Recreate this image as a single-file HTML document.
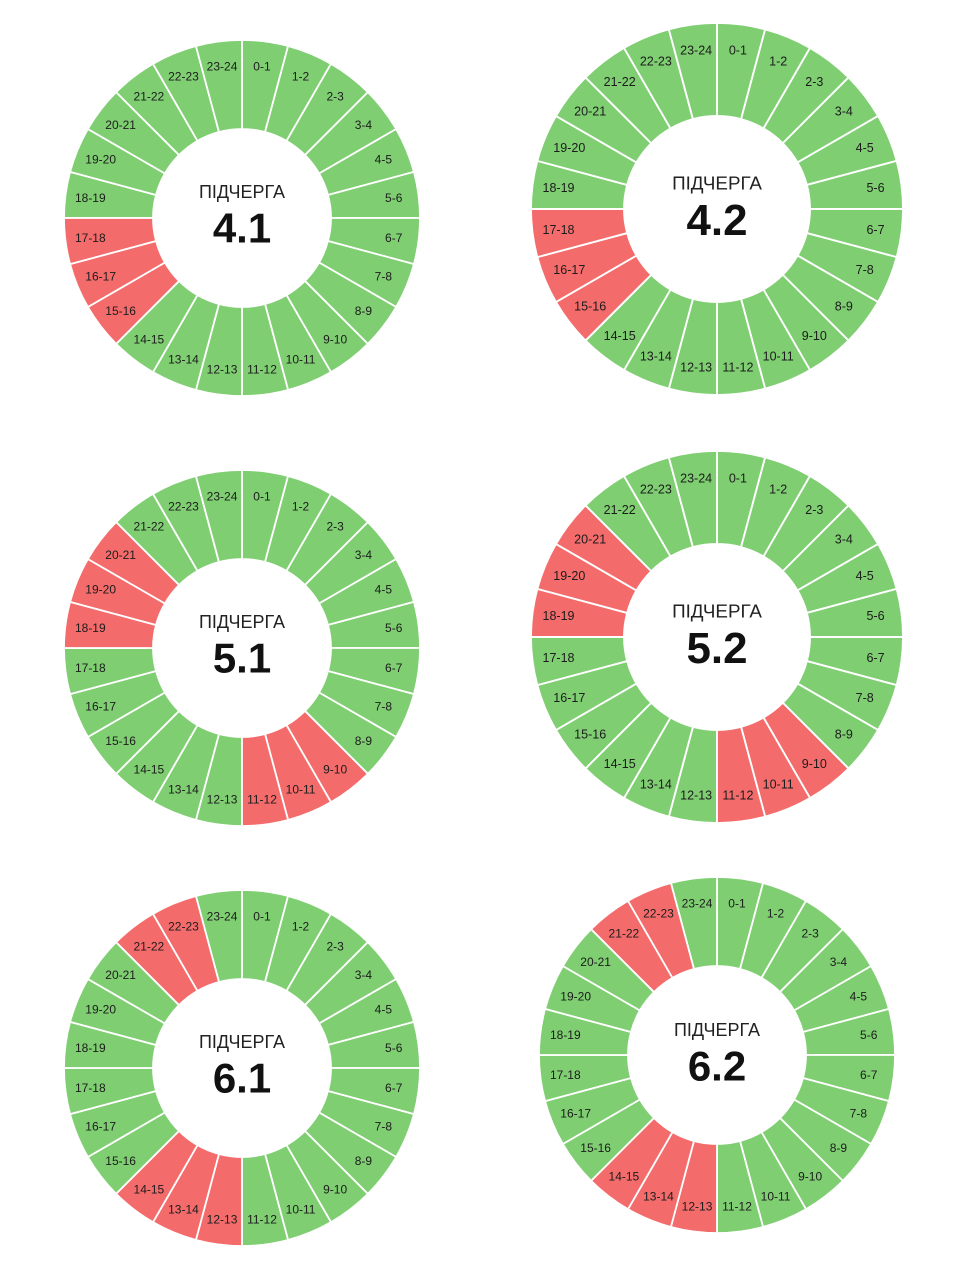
<!DOCTYPE html>
<html><head><meta charset="utf-8"><style>
html,body{margin:0;padding:0;background:#fff;}
svg{display:block;}
</style></head><body>
<svg width="960" height="1280" viewBox="0 0 960 1280" xmlns="http://www.w3.org/2000/svg" font-family="Liberation Sans, DejaVu Sans, sans-serif">
<defs>
<path id="s" d="M0,-178 A178,178 0 0 1 46.07,-171.94 L23.03,-85.97 A89,89 0 0 0 0,-89Z" stroke="#fff" stroke-width="1.8" stroke-linejoin="round"/>
<g id="G">
<use href="#s" transform="rotate(0)"/><use href="#s" transform="rotate(15)"/><use href="#s" transform="rotate(30)"/><use href="#s" transform="rotate(45)"/><use href="#s" transform="rotate(60)"/><use href="#s" transform="rotate(75)"/><use href="#s" transform="rotate(90)"/><use href="#s" transform="rotate(105)"/><use href="#s" transform="rotate(120)"/><use href="#s" transform="rotate(135)"/><use href="#s" transform="rotate(150)"/><use href="#s" transform="rotate(165)"/><use href="#s" transform="rotate(180)"/><use href="#s" transform="rotate(195)"/><use href="#s" transform="rotate(210)"/><use href="#s" transform="rotate(225)"/><use href="#s" transform="rotate(240)"/><use href="#s" transform="rotate(255)"/><use href="#s" transform="rotate(270)"/><use href="#s" transform="rotate(285)"/><use href="#s" transform="rotate(300)"/><use href="#s" transform="rotate(315)"/><use href="#s" transform="rotate(330)"/><use href="#s" transform="rotate(345)"/>
</g>
<g id="L" font-size="12" fill="#1c1c1c" text-anchor="middle" dominant-baseline="central">
<g transform="rotate(7.5)"><text transform="translate(0,-153) rotate(-7.5)">0-1</text></g>
<g transform="rotate(22.5)"><text transform="translate(0,-153) rotate(-22.5)">1-2</text></g>
<g transform="rotate(37.5)"><text transform="translate(0,-153) rotate(-37.5)">2-3</text></g>
<g transform="rotate(52.5)"><text transform="translate(0,-153) rotate(-52.5)">3-4</text></g>
<g transform="rotate(67.5)"><text transform="translate(0,-153) rotate(-67.5)">4-5</text></g>
<g transform="rotate(82.5)"><text transform="translate(0,-153) rotate(-82.5)">5-6</text></g>
<g transform="rotate(97.5)"><text transform="translate(0,-153) rotate(-97.5)">6-7</text></g>
<g transform="rotate(112.5)"><text transform="translate(0,-153) rotate(-112.5)">7-8</text></g>
<g transform="rotate(127.5)"><text transform="translate(0,-153) rotate(-127.5)">8-9</text></g>
<g transform="rotate(142.5)"><text transform="translate(0,-153) rotate(-142.5)">9-10</text></g>
<g transform="rotate(157.5)"><text transform="translate(0,-153) rotate(-157.5)">10-11</text></g>
<g transform="rotate(172.5)"><text transform="translate(0,-153) rotate(-172.5)">11-12</text></g>
<g transform="rotate(187.5)"><text transform="translate(0,-153) rotate(-187.5)">12-13</text></g>
<g transform="rotate(202.5)"><text transform="translate(0,-153) rotate(-202.5)">13-14</text></g>
<g transform="rotate(217.5)"><text transform="translate(0,-153) rotate(-217.5)">14-15</text></g>
<g transform="rotate(232.5)"><text transform="translate(0,-153) rotate(-232.5)">15-16</text></g>
<g transform="rotate(247.5)"><text transform="translate(0,-153) rotate(-247.5)">16-17</text></g>
<g transform="rotate(262.5)"><text transform="translate(0,-153) rotate(-262.5)">17-18</text></g>
<g transform="rotate(277.5)"><text transform="translate(0,-153) rotate(-277.5)">18-19</text></g>
<g transform="rotate(292.5)"><text transform="translate(0,-153) rotate(-292.5)">19-20</text></g>
<g transform="rotate(307.5)"><text transform="translate(0,-153) rotate(-307.5)">20-21</text></g>
<g transform="rotate(322.5)"><text transform="translate(0,-153) rotate(-322.5)">21-22</text></g>
<g transform="rotate(337.5)"><text transform="translate(0,-153) rotate(-337.5)">22-23</text></g>
<g transform="rotate(352.5)"><text transform="translate(0,-153) rotate(-352.5)">23-24</text></g>
</g>
</defs>

<!-- 4.1 -->
<g transform="translate(242,218)">
<use href="#G" fill="#7fce72"/>
<g fill="#f46b6b"><use href="#s" transform="rotate(225)"/><use href="#s" transform="rotate(240)"/><use href="#s" transform="rotate(255)"/></g>
<circle r="89" fill="#fff"/>
<use href="#L"/>
<text y="-26" font-size="18" fill="#222" text-anchor="middle" dominant-baseline="central">ПІДЧЕРГА</text>
<text y="10" font-size="42" font-weight="bold" fill="#111" text-anchor="middle" dominant-baseline="central">4.1</text>
</g>

<!-- 4.2 -->
<g transform="translate(717,209) scale(1.045)">
<use href="#G" fill="#7fce72"/>
<g fill="#f46b6b"><use href="#s" transform="rotate(225)"/><use href="#s" transform="rotate(240)"/><use href="#s" transform="rotate(255)"/></g>
<circle r="89" fill="#fff"/>
<use href="#L"/>
<text y="-25" font-size="18" fill="#222" text-anchor="middle" dominant-baseline="central">ПІДЧЕРГА</text>
<text y="11" font-size="42" font-weight="bold" fill="#111" text-anchor="middle" dominant-baseline="central">4.2</text>
</g>

<!-- 5.1 -->
<g transform="translate(242,648)">
<use href="#G" fill="#7fce72"/>
<g fill="#f46b6b"><use href="#s" transform="rotate(270)"/><use href="#s" transform="rotate(285)"/><use href="#s" transform="rotate(300)"/><use href="#s" transform="rotate(135)"/><use href="#s" transform="rotate(150)"/><use href="#s" transform="rotate(165)"/></g>
<circle r="89" fill="#fff"/>
<use href="#L"/>
<text y="-26" font-size="18" fill="#222" text-anchor="middle" dominant-baseline="central">ПІДЧЕРГА</text>
<text y="10" font-size="42" font-weight="bold" fill="#111" text-anchor="middle" dominant-baseline="central">5.1</text>
</g>

<!-- 5.2 -->
<g transform="translate(717,637) scale(1.045)">
<use href="#G" fill="#7fce72"/>
<g fill="#f46b6b"><use href="#s" transform="rotate(270)"/><use href="#s" transform="rotate(285)"/><use href="#s" transform="rotate(300)"/><use href="#s" transform="rotate(135)"/><use href="#s" transform="rotate(150)"/><use href="#s" transform="rotate(165)"/></g>
<circle r="89" fill="#fff"/>
<use href="#L"/>
<text y="-25" font-size="18" fill="#222" text-anchor="middle" dominant-baseline="central">ПІДЧЕРГА</text>
<text y="11" font-size="42" font-weight="bold" fill="#111" text-anchor="middle" dominant-baseline="central">5.2</text>
</g>

<!-- 6.1 -->
<g transform="translate(242,1068)">
<use href="#G" fill="#7fce72"/>
<g fill="#f46b6b"><use href="#s" transform="rotate(315)"/><use href="#s" transform="rotate(330)"/><use href="#s" transform="rotate(180)"/><use href="#s" transform="rotate(195)"/><use href="#s" transform="rotate(210)"/></g>
<circle r="89" fill="#fff"/>
<use href="#L"/>
<text y="-26" font-size="18" fill="#222" text-anchor="middle" dominant-baseline="central">ПІДЧЕРГА</text>
<text y="10" font-size="42" font-weight="bold" fill="#111" text-anchor="middle" dominant-baseline="central">6.1</text>
</g>

<!-- 6.2 -->
<g transform="translate(717,1055)">
<use href="#G" fill="#7fce72"/>
<g fill="#f46b6b"><use href="#s" transform="rotate(315)"/><use href="#s" transform="rotate(330)"/><use href="#s" transform="rotate(180)"/><use href="#s" transform="rotate(195)"/><use href="#s" transform="rotate(210)"/></g>
<circle r="89" fill="#fff"/>
<use href="#L"/>
<text y="-25" font-size="18" fill="#222" text-anchor="middle" dominant-baseline="central">ПІДЧЕРГА</text>
<text y="11" font-size="42" font-weight="bold" fill="#111" text-anchor="middle" dominant-baseline="central">6.2</text>
</g>
</svg>
</body></html>
